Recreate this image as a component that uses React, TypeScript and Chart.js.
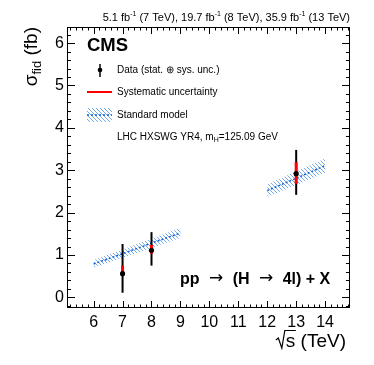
import React, { useEffect, useRef } from 'react';
import { Chart, registerables } from 'chart.js';
Chart.register(...registerables);

// Measured fiducial cross sections (fb)
const energies = [7, 8, 13];
const sigma = [0.56, 1.11, 2.92];
const totUp = [0.70, 0.43, 0.56];
const totDown = [0.45, 0.36, 0.50];
const sysUp = [0.19, 0.13, 0.27];
const sysDown = [0.05, 0.08, 0.24];

// Standard model prediction bands
const smRun1X = [6, 7, 8, 9];
const smRun1Y = [0.79, 1.03, 1.28, 1.52];
const smRun1Err = [0.09, 0.1, 0.11, 0.12];
const smRun2X = [12, 13, 14];
const smRun2Y = [2.52, 2.81, 3.11];
const smRun2Err = [0.15, 0.16, 0.17];

const xTicks = [6, 7, 8, 9, 10, 11, 12, 13, 14];
const yTicks = [0, 1, 2, 3, 4, 5, 6];
const xMin = 5.08, xMax = 14.86, yMin = -0.25, yMax = 6.38;

const FONT = 'Liberation Sans, Arial, Helvetica, sans-serif';

function makePattern(): CanvasPattern | string {
  const n = 4;
  const pc = document.createElement('canvas');
  pc.width = n; pc.height = n;
  const p = pc.getContext('2d');
  if (!p) return 'rgba(90,150,225,0.5)';
  p.strokeStyle = 'rgba(80,150,230,0.8)';
  p.lineWidth = 1;
  p.beginPath();
  for (const x0 of [-n, 0, n]) {
    p.moveTo(x0, 0);
    p.lineTo(x0 + n, n);
  }
  p.stroke();
  const pat = p.createPattern(pc, 'repeat');
  return pat || 'rgba(90,150,225,0.5)';
}

const framePlugin = {
  id: 'rootFrame',
  afterDraw(chart: any) {
    const { ctx, chartArea: a, scales } = chart;
    const xs = scales.x, ys = scales.y;
    const pattern = chart.$pattern;
    ctx.save();
    // frame
    ctx.strokeStyle = '#000';
    ctx.lineWidth = 1;
    ctx.strokeRect(Math.round(a.left) + 0.5, Math.round(a.top) + 0.5, Math.round(a.right - a.left) - 1, Math.round(a.bottom - a.top) - 1);
    // x ticks
    ctx.beginPath();
    for (let k = 26; k <= 74; k++) {
      const v = k / 5;
      if (v <= xMin || v >= xMax) continue;
      const px = Math.round(xs.getPixelForValue(v)) + 0.5;
      const major = k % 5 === 0;
      const len = major ? 7 : 3.5;
      ctx.moveTo(px, a.bottom); ctx.lineTo(px, a.bottom - len);
      ctx.moveTo(px, a.top); ctx.lineTo(px, a.top + len);
    }
    // y ticks
    for (let k = -1; k <= 31; k++) {
      const v = k / 5;
      if (v <= yMin || v >= yMax) continue;
      const py = Math.round(ys.getPixelForValue(v)) + 0.5;
      const major = k % 5 === 0;
      const len = major ? 8 : 4;
      ctx.moveTo(a.left, py); ctx.lineTo(a.left + len, py);
      ctx.moveTo(a.right, py); ctx.lineTo(a.right - len, py);
    }
    ctx.stroke();

    ctx.fillStyle = '#000';
    ctx.textBaseline = 'alphabetic';
    // header
    const parts: [string, boolean][] = [
      ['5.1 fb', false], ['-1', true], [' (7 TeV), 19.7 fb', false], ['-1', true],
      [' (8 TeV), 35.9 fb', false], ['-1', true], [' (13 TeV)', false],
    ];
    const mainF = `11px ${FONT}`, supF = `7px ${FONT}`;
    let tw = 0;
    for (const [t, s] of parts) { ctx.font = s ? supF : mainF; tw += ctx.measureText(t).width; }
    let hx = a.right - tw;
    for (const [t, s] of parts) {
      ctx.font = s ? supF : mainF;
      ctx.textAlign = 'left';
      ctx.fillText(t, hx, s ? 16 : 21);
      hx += ctx.measureText(t).width;
    }
    // CMS
    ctx.font = `bold 18.5px ${FONT}`;
    ctx.fillText('CMS', 87, 51);
    // legend
    ctx.font = `10px ${FONT}`;
    ctx.textBaseline = 'middle';
    ctx.fillText('Data (stat. \u2295 sys. unc.)', 117, 70);
    ctx.fillText('Systematic uncertainty', 117, 92);
    ctx.fillText('Standard model', 117, 115);
    ctx.fillText('LHC HXSWG YR4, ', 117, 137);
    let lx = 117 + ctx.measureText('LHC HXSWG YR4, ').width;
    ctx.fillText('m', lx, 137);
    lx += ctx.measureText('m').width;
    ctx.font = `7px ${FONT}`;
    ctx.fillText('H', lx, 140);
    lx += ctx.measureText('H').width;
    ctx.font = `10px ${FONT}`;
    ctx.fillText('=125.09 GeV', lx, 137);
    // legend symbols
    ctx.strokeStyle = '#000'; ctx.lineWidth = 1.5;
    ctx.beginPath(); ctx.moveTo(100, 64); ctx.lineTo(100, 77); ctx.stroke();
    ctx.beginPath(); ctx.arc(100, 70, 2.3, 0, Math.PI * 2); ctx.fill();
    ctx.strokeStyle = '#ff0000'; ctx.lineWidth = 2;
    ctx.beginPath(); ctx.moveTo(87, 92); ctx.lineTo(112, 92); ctx.stroke();
    ctx.fillStyle = pattern;
    ctx.fillRect(87, 108, 25, 14);
    ctx.strokeStyle = '#1060d0'; ctx.lineWidth = 1.5; ctx.setLineDash([2, 2]);
    ctx.beginPath(); ctx.moveTo(87, 115); ctx.lineTo(112, 115); ctx.stroke();
    ctx.setLineDash([]);
    ctx.fillStyle = '#000';
    // process label
    ctx.textBaseline = 'alphabetic';
    ctx.textAlign = 'left';
    const procParts: [string, boolean][] = [
      ['pp ', false], ['\u2192', true], [' (H ', false], ['\u2192', true], [' 4l) + X', false],
    ];
    let px0 = 180;
    for (const [t, arrow] of procParts) {
      ctx.font = arrow ? `17px DejaVu Sans, ${FONT}` : `bold 16px ${FONT}`;
      if (arrow) px0 += 5;
      ctx.fillText(t, px0, arrow ? 283 : 284);
      px0 += ctx.measureText(t).width + (arrow ? 5 : 0);
    }
    // x title
    ctx.font = `19px ${FONT}`;
    ctx.textAlign = 'right';
    const xt = 's (TeV)';
    const xtw = ctx.measureText(xt).width;
    ctx.fillText(xt, 346, 347);
    ctx.textAlign = 'left';
    const sw = ctx.measureText('s').width;
    const rx = 346 - xtw;
    ctx.lineWidth = 1.2; ctx.strokeStyle = '#000';
    ctx.beginPath();
    ctx.moveTo(rx - 10, 340); ctx.lineTo(rx - 7.5, 338); ctx.lineTo(rx - 4, 348); ctx.lineTo(rx - 1, 330.5); ctx.lineTo(rx + sw + 0.5, 330.5);
    ctx.stroke();
    // y title (rotated)
    ctx.save();
    ctx.translate(37, 27);
    ctx.rotate(-Math.PI / 2);
    const big = `19px ${FONT}`, sub = `13px ${FONT}`;
    ctx.font = big; const w1 = ctx.measureText('\u03c3').width;
    ctx.font = sub; const w2 = ctx.measureText('fid').width;
    ctx.font = big; const w3 = ctx.measureText(' (fb)').width;
    let u = -(w1 + w2 + w3);
    ctx.font = big; ctx.fillText('\u03c3', u, 0); u += w1;
    ctx.font = sub; ctx.fillText('fid', u, 4); u += w2;
    ctx.font = big; ctx.fillText(' (fb)', u, 0);
    ctx.restore();
    ctx.restore();
  },
};

export default function App() {
  const ref = useRef<HTMLCanvasElement>(null);
  useEffect(() => {
    const canvas = ref.current;
    if (!canvas) return;
    const pattern = makePattern();
    const band = (xs: number[], ys: number[], es: number[], sign: number) =>
      xs.map((x, i) => ({ x, y: ys[i] + sign * es[i] }));
    const center = (xs: number[], ys: number[]) => xs.map((x, i) => ({ x, y: ys[i] }));
    const datasets: any[] = [];
    for (const [X, Y, E] of [[smRun1X, smRun1Y, smRun1Err], [smRun2X, smRun2Y, smRun2Err]] as number[][][]) {
      datasets.push({ order: 5, data: band(X, Y, E, 1), showLine: true, borderWidth: 0, pointRadius: 0, fill: '+1', backgroundColor: pattern, borderColor: 'rgba(0,0,0,0)' });
      datasets.push({ order: 5, data: band(X, Y, E, -1), showLine: true, borderWidth: 0, pointRadius: 0, fill: false, borderColor: 'rgba(0,0,0,0)' });
      datasets.push({ order: 4, data: center(X, Y), showLine: true, borderWidth: 1.5, borderDash: [2, 2], borderColor: '#1060d0', pointRadius: 0, fill: false });
    }
    energies.forEach((e, i) => {
      datasets.push({ order: 3, data: [{ x: e, y: sigma[i] - totDown[i] }, { x: e, y: sigma[i] + totUp[i] }], showLine: true, borderWidth: 2, borderColor: '#000', pointRadius: 0, fill: false });
    });
    energies.forEach((e, i) => {
      datasets.push({ order: 2, data: [{ x: e, y: sigma[i] - sysDown[i] }, { x: e, y: sigma[i] + sysUp[i] }], showLine: true, borderWidth: 3, borderColor: '#ff0000', pointRadius: 0, fill: false });
    });
    datasets.push({ order: 1, data: energies.map((e, i) => ({ x: e, y: sigma[i] })), showLine: false, pointRadius: 2.6, pointBackgroundColor: '#000', pointBorderWidth: 0, pointStyle: 'circle' });

    const chart: any = new Chart(canvas, {
      type: 'scatter',
      data: { datasets },
      options: {
        animation: false,
        responsive: false,
        maintainAspectRatio: false,
        layout: { padding: { top: 27, right: 24, left: 0, bottom: 0 } },
        plugins: { legend: { display: false }, tooltip: { enabled: false } },
        scales: {
          x: {
            type: 'linear', min: xMin, max: xMax,
            grid: { display: false, drawTicks: false }, border: { display: false },
            ticks: { color: '#000', font: { family: FONT, size: 16 }, padding: 5, autoSkip: false, maxRotation: 0 },
            afterBuildTicks: (s: any) => { s.ticks = xTicks.map((v) => ({ value: v })); },
            afterFit: (s: any) => { s.height = 57; },
          },
          y: {
            type: 'linear', min: yMin, max: yMax,
            grid: { display: false, drawTicks: false }, border: { display: false },
            ticks: { color: '#000', font: { family: FONT, size: 16 }, padding: 3, autoSkip: false },
            afterBuildTicks: (s: any) => { s.ticks = yTicks.map((v) => ({ value: v })); },
            afterFit: (s: any) => { s.width = 67; },
          },
        },
      },
      plugins: [framePlugin],
    });
    chart.$pattern = pattern;
    chart.draw();
    return () => chart.destroy();
  }, []);
  return (
    <div style={{ position: 'fixed', left: 0, top: 0, width: 374, height: 365, background: '#fff' }}>
      <canvas ref={ref} width={374} height={365} style={{ width: 374, height: 365 }} />
    </div>
  );
}
